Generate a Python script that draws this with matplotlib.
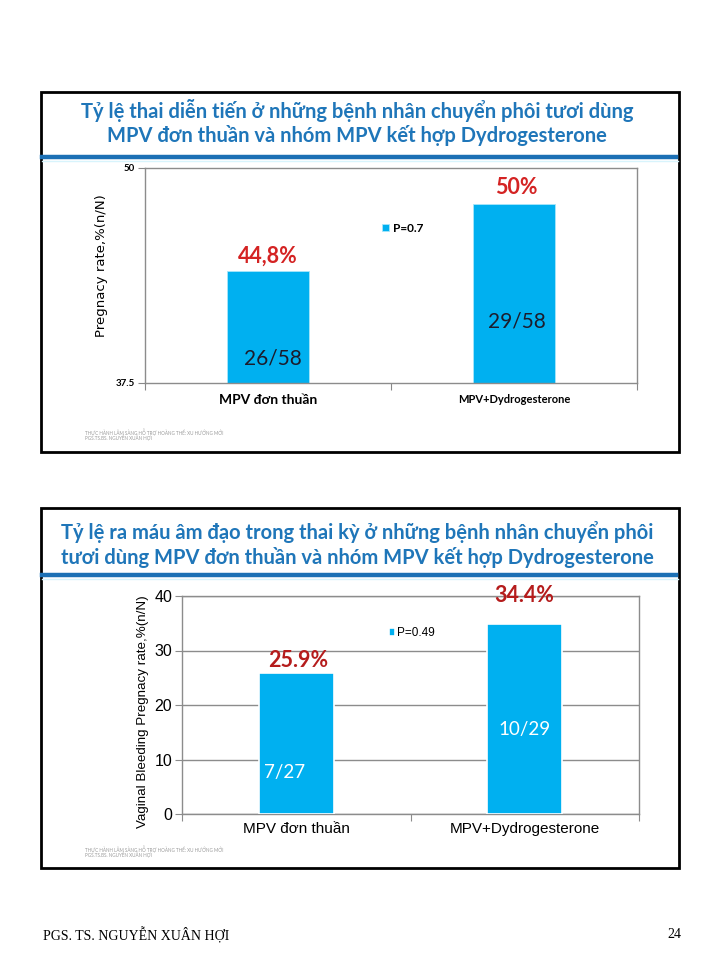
import matplotlib
matplotlib.use("Agg")
import matplotlib.pyplot as plt
from matplotlib.patches import Rectangle
from matplotlib.lines import Line2D

# data
groups = ["MPV đơn thuần", "MPV+Dydrogesterone"]

preg_values = [44.0, 47.9]
preg_pct_labels = ["44,8%", "50%"]
preg_count_labels = ["26/58", "29/58"]
preg_legend = "P=0.7"
preg_yticks = [37.5, 50]

bleed_values = [25.9, 34.9]
bleed_pct_labels = ["25.9%", "34.4%"]
bleed_count_labels = ["7/27", "10/29"]
bleed_legend = "P=0.49"
bleed_yticks = [0, 10, 20, 30, 40]

title1 = ["Tỷ lệ thai diễn tiến ở những bệnh nhân chuyển phôi tươi dùng",
          "MPV đơn thuần và nhóm MPV kết hợp Dydrogesterone"]
title2 = ["Tỷ lệ ra máu âm đạo trong thai kỳ ở những bệnh nhân chuyển phôi",
          "tươi dùng MPV đơn thuần và nhóm MPV kết hợp Dydrogesterone"]
footnote = ["THỰC HÀNH LÂM SÀNG HỖ TRỢ HOÀNG THỂ: XU HƯỚNG MỚI",
            "PGS.TS.BS. NGUYỄN XUÂN HỢI"]

W, H = 720, 960
SANS = ["Lato", "Open Sans", "DejaVu Sans"]
ARIAL = ["Liberation Sans", "DejaVu Sans"]
BAR = "#00b0f0"
TITLE_BLUE = "#1f76b9"


def fx(x):
    return x / W


def fy(y):
    return 1 - y / H


def px_axes(fig, x0, y0, x1, y1):
    return fig.add_axes([fx(x0), fy(y1), (x1 - x0) / W, (y1 - y0) / H])


def panel_frame(fig, top, bottom, titles, title_y, rule_y):
    fig.add_artist(Rectangle((fx(41), fy(bottom)), (679 - 41) / W, (bottom - top) / H,
                             transform=fig.transFigure, fill=False, lw=2, ec="black"))
    for t, y in zip(titles, title_y):
        fig.text(fx(357), fy(y), t, ha="center", va="center", fontsize=14.5,
                 fontweight="bold", color=TITLE_BLUE, family=SANS)
    fig.add_artist(Line2D([fx(42), fx(676)], [fy(rule_y), fy(rule_y)],
                          transform=fig.transFigure, color="#1c70b5", lw=3.2))
    fig.add_artist(Line2D([fx(42), fx(678)], [fy(rule_y + 4), fy(rule_y + 4)],
                          transform=fig.transFigure, color="#d8f4fc", lw=1))


def footnote_text(fig, y):
    for i, t in enumerate(footnote):
        fig.text(fx(85), fy(y + i * 6), t, ha="left", va="center", fontsize=3.3,
                 color="#9a9a9a", family=SANS)


fig = plt.figure(figsize=(W / 100, H / 100), dpi=100)
fig.patch.set_facecolor("white")

# ---------------- panel 1 ----------------
panel_frame(fig, 92, 452, title1, [111, 135], 157)
footnote_text(fig, 432)

ax = px_axes(fig, 145, 168, 637, 383)
x = range(len(groups))
ax.bar(x, preg_values, width=0.33, color=BAR, edgecolor="#a8e6fa",
       linewidth=0.6, label=preg_legend)
ax.set_xlim(-0.5, 1.5)
ax.set_ylim(preg_yticks[0], preg_yticks[-1])
ax.set_yticks(preg_yticks)
ax.set_yticklabels(["37.5", "50"], fontsize=7, fontweight="bold", family=SANS)
ax.set_xticks([-0.5, 0.5, 1.5])
ax.set_xticklabels([])
ax.set_xticks(list(x), minor=True)
ax.set_xticklabels(groups, minor=True)
for lbl, fs in zip(ax.get_xticklabels(minor=True), [10, 8]):
    lbl.set_fontsize(fs)
    lbl.set_fontweight("bold")
    lbl.set_family(SANS)
ax.tick_params(axis="x", which="minor", length=0, pad=8)
ax.tick_params(axis="x", which="major", length=5, color="#888888", direction="out")
ax.tick_params(axis="y", length=5, color="#888888", pad=2)
for s in ax.spines.values():
    s.set_color("#8c8c8c")
    s.set_linewidth(1)
ax.set_ylabel("Pregnacy rate,%(n/N)", fontsize=9.5, family=["DejaVu Sans"])
ax.yaxis.set_label_coords(-0.076, 0.545)

ax.text(0.0, 44.85, preg_pct_labels[0], ha="center", va="center", fontsize=15.5,
        fontweight="bold", color="#d42323", family=SANS)
ax.text(1.01, 48.85, preg_pct_labels[1], ha="center", va="center", fontsize=15.5,
        fontweight="bold", color="#d42323", family=SANS)
ax.text(0.02, 38.95, preg_count_labels[0], ha="center", va="center", fontsize=15,
        color="#1c1c2c", family=SANS)
ax.text(1.01, 41.1, preg_count_labels[1], ha="center", va="center", fontsize=15,
        color="#1c1c2c", family=SANS)
ax.legend(loc="center left", bbox_to_anchor=(0.46, 0.72), frameon=False,
          prop={"family": SANS, "size": 8.5, "weight": "bold"},
          handlelength=0.6, handleheight=0.6, handletextpad=0.3)

# ---------------- panel 2 ----------------
panel_frame(fig, 508, 868, title2, [532, 558], 575)
footnote_text(fig, 849)

ax2 = px_axes(fig, 182, 596, 639, 814)
ax2.bar(x, bleed_values, width=0.33, color=BAR, edgecolor="white", linewidth=1.2,
        zorder=3, label=bleed_legend)
ax2.set_xlim(-0.5, 1.5)
ax2.set_ylim(0, 40)
ax2.set_yticks(bleed_yticks)
ax2.set_yticklabels([str(v) for v in bleed_yticks], fontsize=11.5, family=ARIAL)
ax2.grid(axis="y", color="#8c8c8c", lw=1, zorder=1)
ax2.set_xticks([-0.5, 0.5, 1.5])
ax2.set_xticklabels([])
ax2.set_xticks(list(x), minor=True)
ax2.set_xticklabels(groups, minor=True, fontsize=11, family=ARIAL)
ax2.tick_params(axis="x", which="minor", length=0, pad=6)
ax2.tick_params(axis="x", which="major", length=5, color="#8c8c8c")
ax2.tick_params(axis="y", length=5, color="#8c8c8c", pad=2)
for s in ax2.spines.values():
    s.set_color("#8c8c8c")
    s.set_linewidth(1)
ax2.set_ylabel("Vaginal Bleeding Pregnacy rate,%(n/N)", fontsize=9.6, family=ARIAL)
ax2.yaxis.set_label_coords(-0.072, 0.47)

ax2.text(0.01, 28.2, bleed_pct_labels[0], ha="center", va="center", fontsize=15.5,
         fontweight="bold", color="#b51c1c", family=SANS)
ax2.text(1.0, 40.0, bleed_pct_labels[1], ha="center", va="center", fontsize=15.5,
         fontweight="bold", color="#b51c1c", family=SANS)
ax2.text(-0.05, 7.6, bleed_count_labels[0], ha="center", va="center", fontsize=13.5,
         color="white", family=SANS, zorder=4)
ax2.text(1.0, 15.5, bleed_count_labels[1], ha="center", va="center", fontsize=13.5,
         color="white", family=SANS, zorder=4)
ax2.legend(loc="center left", bbox_to_anchor=(0.43, 0.83), frameon=False,
           prop={"family": ARIAL, "size": 8.5},
           handlelength=0.5, handleheight=0.6, handletextpad=0.2)

# footer
fig.text(fx(43), fy(935), "PGS. TS. NGUYỄN XUÂN HỢI", ha="left", va="center",
         fontsize=10, family=["Liberation Serif", "DejaVu Serif"])
fig.text(fx(681), fy(935), "24", ha="right", va="center", fontsize=10,
         family=["Liberation Serif", "DejaVu Serif"])

fig.savefig("out.png", dpi=100)
